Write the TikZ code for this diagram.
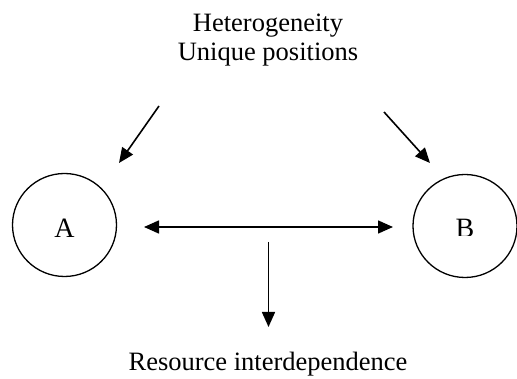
\documentclass[tikz,border=0pt]{standalone}
\usepackage{fontspec}
\setmainfont{Liberation Serif}
\usetikzlibrary{arrows.meta,shapes.geometric}
\tikzset{
  lbl/.style={font=\fontsize{26.5}{29}\selectfont, align=center, inner sep=0pt},
  letter/.style={font=\fontsize{28}{30}\selectfont, inner sep=0pt, anchor=base},
  actor/.style={draw, line width=1.3pt, ellipse, minimum width=104pt, minimum height=103pt, inner sep=0pt},
  arr/.style={line width=1.6pt, -{Triangle[length=15pt,width=13pt]}},
  darr/.style={line width=1.6pt, {Triangle[length=15pt,width=13pt]}-{Triangle[length=15pt,width=13pt]}}
}
\begin{document}
\begin{tikzpicture}[x=1pt,y=-1pt]
\useasboundingbox (0,0) rectangle (517,379);
\node[lbl] (top) at (268,40) {Heterogeneity\\Unique positions};
\node[actor] (A) at (64.5,225) {};
\node[actor] (B) at (465,226) {};
\node[letter] (Alab) at (64.5,238) {A};
\begin{scope}
\clip (420,180) rectangle (510,235.5);
\node[letter] (Blab) at (465,238) {B};
\end{scope}
\coordinate (l1) at (159,106);
\coordinate (l2) at (119,163);
\coordinate (r1) at (384,112);
\coordinate (r2) at (430,163);
\coordinate (h1) at (144,227);
\coordinate (h2) at (393,227);
\coordinate (v1) at (268.5,242);
\coordinate (v2) at (268.5,327);
\node[lbl] (res) at (268,364) {Resource interdependence};
\draw[arr] (l1) -- (l2);
\draw[arr] (r1) -- (r2);
\draw[darr] (h1) -- (h2);
\draw[arr] (v1) -- (v2);
\end{tikzpicture}
\end{document}
